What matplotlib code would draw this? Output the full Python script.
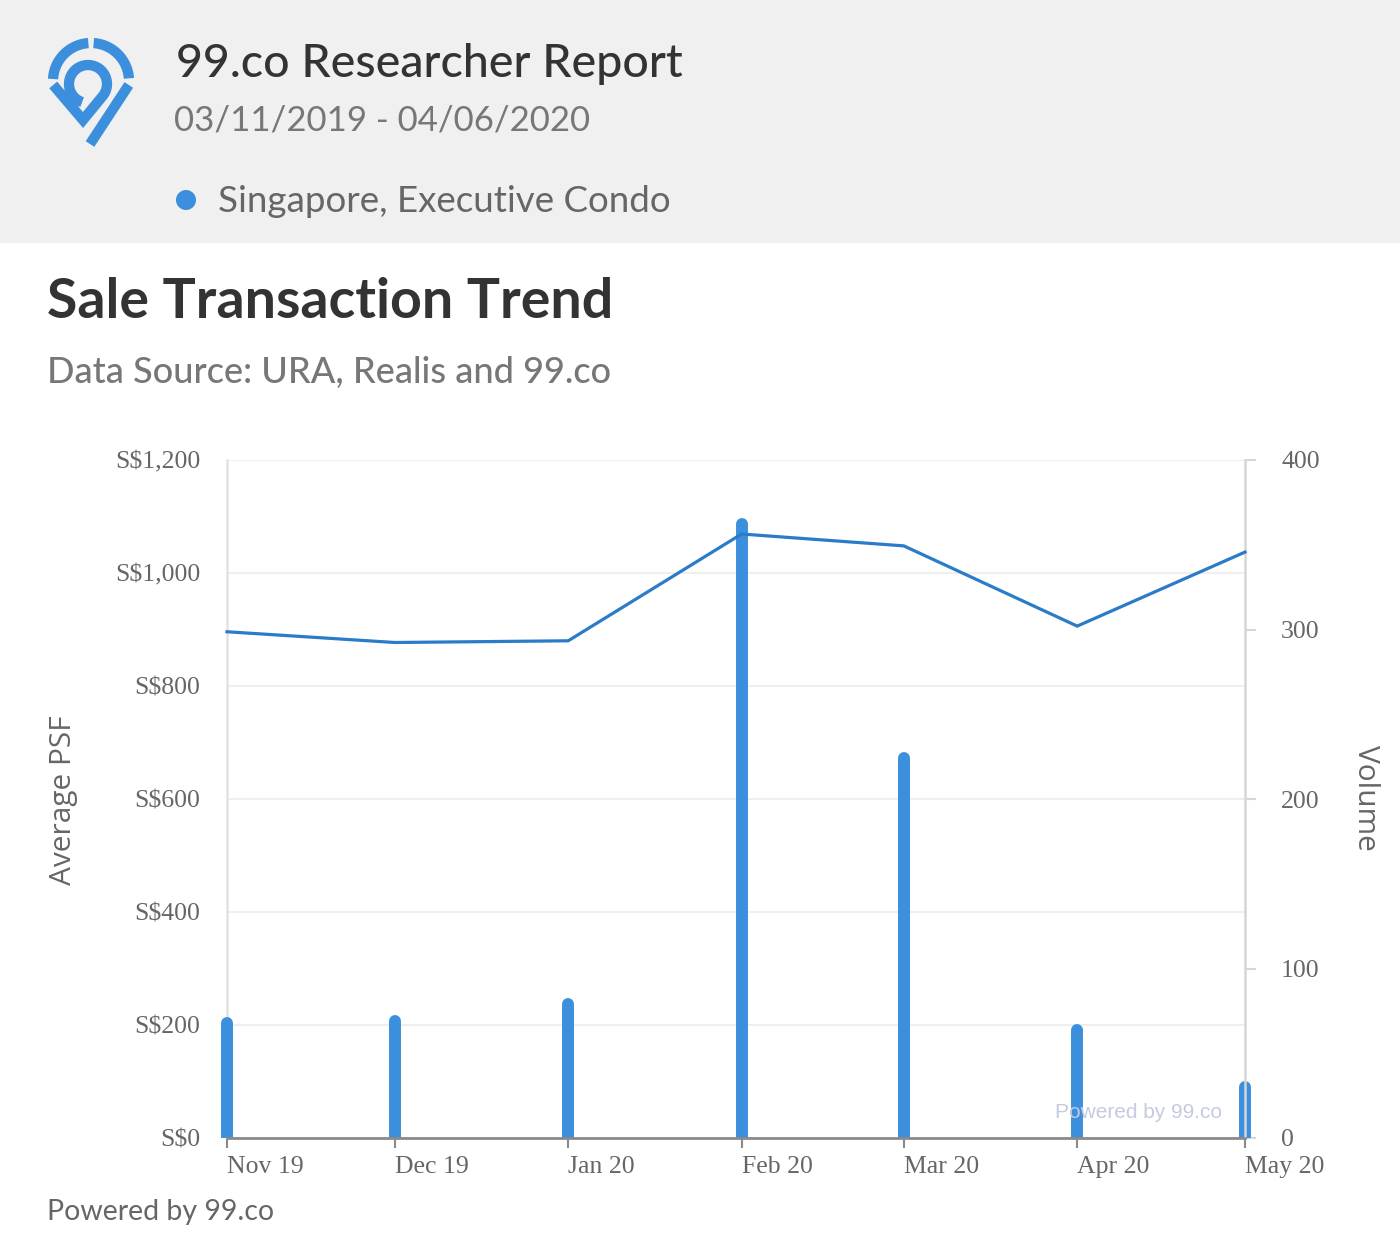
import numpy as np
import matplotlib.pyplot as plt
import matplotlib.dates as mdates
from matplotlib.patches import Rectangle, Circle
from matplotlib.ticker import FuncFormatter, MultipleLocator
from datetime import date

# data
months = [date(2019, 11, 1), date(2019, 12, 1), date(2020, 1, 1), date(2020, 2, 1),
          date(2020, 3, 1), date(2020, 4, 1), date(2020, 5, 1)]
avg_psf = [896, 877, 880, 1069, 1048, 906, 1037]
volume = [68, 69, 79, 362, 224, 64, 30]
month_labels = ['Nov 19', 'Dec 19', 'Jan 20', 'Feb 20', 'Mar 20', 'Apr 20', 'May 20']

W, H = 1400, 1254
LINE_C = '#2a7bc8'
BAR_C = '#3b8fdc'
SANS = ['Lato', 'DejaVu Sans']
SERIF = ['Liberation Serif', 'DejaVu Serif']

fig = plt.figure(figsize=(W / 100, H / 100), dpi=100)
fig.patch.set_facecolor('white')

# page layer in pixel coordinates
bg = fig.add_axes([0, 0, 1, 1], zorder=0)
bg.set_xlim(0, W)
bg.set_ylim(H, 0)
bg.axis('off')
bg.add_patch(Rectangle((0, 0), W, 243, color='#f0f0f0', lw=0))

# logo: pin made of ring pieces
def arc(cx, cy, r, a0, a1, n=60):
    t = np.radians(np.linspace(a0, a1, n))
    return cx + r * np.cos(t), cy - r * np.sin(t)

lw_logo = 7.4
cx, cy, r = 91, 81, 38
for a0, a1 in [(177, 94), (86, 4)]:
    ax_, ay_ = arc(cx, cy, r, a0, a1)
    bg.plot(ax_, ay_, color=BAR_C, lw=lw_logo, solid_capstyle='butt')
# right outer side down to the tip
px, py = arc(cx, cy, r, -6, -6, 1)
bg.plot([px[0], 90], [py[0], 144], color=BAR_C, lw=lw_logo, solid_capstyle='butt')
# inner ring and left side meeting in a V
ix, iy = arc(88, 84, 19, 252, -40)
lx, ly = arc(cx, cy, r, 186, 186, 1)
bg.plot(np.r_[lx, 83, ix[::-1]], np.r_[ly, 120, iy[::-1]], color=BAR_C,
        lw=lw_logo, solid_capstyle='butt', solid_joinstyle='miter')

bg.text(176, 64, '99.co Researcher Report', fontsize=33.5, family=SANS, weight='medium',
        color='#333333', va='center', ha='left')
bg.text(174, 121, '03/11/2019 - 04/06/2020', fontsize=25, family=SANS,
        color='#777777', va='center', ha='left')
bg.add_patch(Circle((186, 200), 10, color=BAR_C, lw=0))
bg.text(218, 201, 'Singapore, Executive Condo', fontsize=26.5, family=SANS,
        color='#666666', va='center', ha='left')
bg.text(47, 302, 'Sale Transaction Trend', fontsize=40, family=SANS, weight='bold',
        color='#333333', va='center', ha='left')
bg.text(47, 372, 'Data Source: URA, Realis and 99.co', fontsize=26, family=SANS,
        weight='medium', color='#777777', va='center', ha='left')
bg.text(47, 1212, 'Powered by 99.co', fontsize=20.5, family=SANS,
        color='#666666', va='center', ha='left')
bg.text(64, 800, 'Average PSF', fontsize=21.5, family=['Open Sans', 'DejaVu Sans'],
        color='#666666', rotation=90, va='center', ha='center')
bg.text(1366, 798, 'Volume', fontsize=21.5, family=['Open Sans', 'DejaVu Sans'],
        color='#666666', rotation=270, va='center', ha='center')
fig.text(1222 / W, 1 - 1112 / H, 'Powered by 99.co', fontsize=15,
         family=['Liberation Sans', 'DejaVu Sans'], color='#c5cadf',
         va='center', ha='right', zorder=10)

# chart
L, R, T, B = 227, 1245, 460, 1138
rect = [L / W, 1 - B / H, (R - L) / W, (B - T) / H]
ax = fig.add_axes(rect, zorder=1)
ax.patch.set_alpha(0)
ax2 = ax.twinx()
ax2.set_zorder(2)

xs = mdates.date2num(months)

# volume columns with round tops, clipped at the baseline
cols = ax2.vlines(xs, 0, volume, colors=BAR_C, lw=8.6, capstyle='round')
cols.set_clip_path(Rectangle((-0.05, 0), 1.1, 1.2, transform=ax2.transAxes))
ax2.set_ylim(0, 400)
ax2.yaxis.set_major_locator(MultipleLocator(100))

ax.set_ylim(0, 1200)
ax.yaxis.set_major_locator(MultipleLocator(200))
ax.set_xlim(xs[0], xs[-1])
ax.yaxis.set_major_formatter(FuncFormatter(lambda v, p: 'S${:,.0f}'.format(v)))
ax.grid(axis='y', color='#efefef', lw=1.5)
ax.set_axisbelow(True)

# average psf line on top
ax3 = fig.add_axes(rect, sharex=ax, sharey=ax, zorder=3)
ax3.axis('off')
ax3.plot(xs, avg_psf, color=LINE_C, lw=2.3, clip_on=False)

ax.set_xticks(xs)
ax.set_xticklabels(month_labels)
for lab in ax.get_xticklabels():
    lab.set_horizontalalignment('left')

for a in (ax, ax2):
    for s in a.spines.values():
        s.set_visible(False)

ax.spines['left'].set_visible(True)
ax.spines['left'].set_color('#e3e3e3')
ax.spines['left'].set_linewidth(1.8)
ax2.spines['bottom'].set_visible(True)
ax2.spines['bottom'].set_color('#8a8a8a')
ax2.spines['bottom'].set_linewidth(2)
ax2.spines['right'].set_visible(True)
ax2.spines['right'].set_color('#d6d6d6')
ax2.spines['right'].set_linewidth(1.8)

ax.tick_params(axis='y', length=0, pad=19, labelsize=18.5, labelcolor='#666666')
ax.tick_params(axis='x', length=7, width=1.5, color='#8a8a8a', pad=6,
               labelsize=18.5, labelcolor='#666666')
ax2.tick_params(axis='y', length=8, width=1.5, color='#d6d6d6', pad=18,
                labelsize=18.5, labelcolor='#666666')
for lab in ax.get_xticklabels() + ax.get_yticklabels() + ax2.get_yticklabels():
    lab.set_family(SERIF)

fig.savefig('out.png', dpi=100)
